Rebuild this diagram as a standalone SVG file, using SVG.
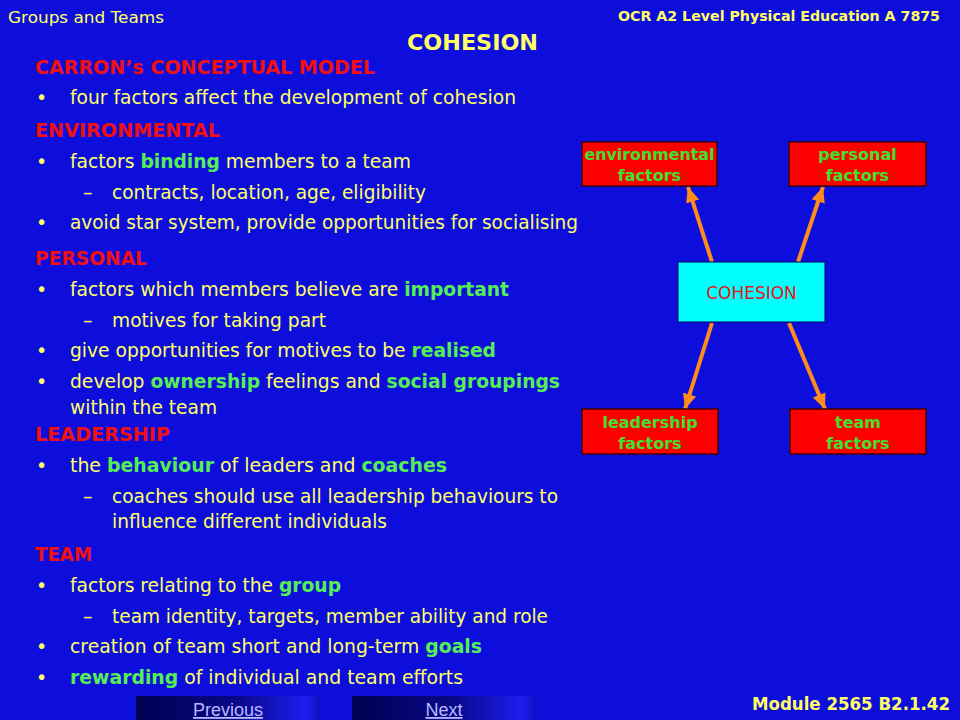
<svg xmlns="http://www.w3.org/2000/svg" width="960" height="720" viewBox="0 0 960 720">
<defs>
<style>
.t{font-family:"DejaVu Sans","Liberation Sans",sans-serif;font-size:19px;fill:#FFFF66}
.h{font-family:"DejaVu Sans","Liberation Sans",sans-serif;font-size:19px;font-weight:bold;fill:#F01010}
.g{fill:#55EE55;font-weight:bold}
.bt{font-family:"DejaVu Sans","Liberation Sans",sans-serif;font-size:16px;font-weight:bold;fill:#40E030;text-anchor:middle}
.hd{font-family:"DejaVu Sans","Liberation Sans",sans-serif;fill:#FFFF66}
.box{fill:#FF0000;stroke:#400000;stroke-width:1.5}
.arr{stroke:#FF8C1A;stroke-width:4;fill:none;marker-end:url(#ah)}
.btn{font-family:"Liberation Sans",Arial,sans-serif;font-size:18px;fill:#B8B8FF;text-anchor:middle;text-decoration:underline}
</style>
<marker id="ah" viewBox="0 0 10 10" refX="10" refY="5" markerWidth="3.8" markerHeight="3.8" orient="auto" markerUnits="strokeWidth">
<path d="M0,0.5 L10,5 L0,9.5 z" fill="#FF8C1A"/>
</marker>
<linearGradient id="bg" x1="0" y1="0" x2="1" y2="0">
<stop offset="0" stop-color="#000050"/>
<stop offset="0.55" stop-color="#080888"/>
<stop offset="0.92" stop-color="#1E1EF0"/>
<stop offset="1" stop-color="#1010C0"/>
</linearGradient>
</defs>
<rect x="0" y="0" width="960" height="720" fill="#0E0EDC"/>

<g id="header">
<text class="hd" x="8" y="23" font-size="15" textLength="156" lengthAdjust="spacingAndGlyphs">Groups and Teams</text>
<text class="hd" x="618" y="21" font-size="14" font-weight="bold" textLength="322" lengthAdjust="spacingAndGlyphs">OCR A2 Level Physical Education A 7875</text>
<text class="hd" x="407" y="50" font-size="22" font-weight="bold" textLength="131" lengthAdjust="spacingAndGlyphs">COHESION</text>
<text class="hd" x="752" y="710" font-size="17" font-weight="bold" textLength="198" lengthAdjust="spacingAndGlyphs">Module 2565 B2.1.42</text>
</g>

<g id="text">
<text class="h" x="35" y="74" textLength="340" lengthAdjust="spacingAndGlyphs">CARRON’s CONCEPTUAL MODEL</text>
<text class="t" x="36" y="104">•</text>
<text class="t" x="70" y="104" textLength="446" lengthAdjust="spacingAndGlyphs">four factors affect the development of cohesion</text>

<text class="h" x="35" y="137" textLength="185" lengthAdjust="spacingAndGlyphs">ENVIRONMENTAL</text>
<text class="t" x="36" y="168">•</text>
<text class="t" x="70" y="168" textLength="341" lengthAdjust="spacingAndGlyphs">factors <tspan class="g">binding</tspan>  members to a team</text>
<text class="t" x="83" y="199">–</text>
<text class="t" x="112" y="199" textLength="314" lengthAdjust="spacingAndGlyphs">contracts, location, age, eligibility</text>
<text class="t" x="36" y="229">•</text>
<text class="t" x="70" y="229" textLength="508" lengthAdjust="spacingAndGlyphs">avoid star system, provide opportunities for socialising</text>

<text class="h" x="35" y="265" textLength="112" lengthAdjust="spacingAndGlyphs">PERSONAL</text>
<text class="t" x="36" y="296">•</text>
<text class="t" x="70" y="296" textLength="439" lengthAdjust="spacingAndGlyphs">factors which members believe are <tspan class="g">important</tspan></text>
<text class="t" x="83" y="327">–</text>
<text class="t" x="112" y="327" textLength="214" lengthAdjust="spacingAndGlyphs">motives for taking part</text>
<text class="t" x="36" y="357">•</text>
<text class="t" x="70" y="357" textLength="426" lengthAdjust="spacingAndGlyphs">give opportunities for motives to be <tspan class="g">realised</tspan></text>
<text class="t" x="36" y="388">•</text>
<text class="t" x="70" y="388" textLength="490" lengthAdjust="spacingAndGlyphs">develop <tspan class="g">ownership</tspan> feelings and <tspan class="g">social groupings</tspan></text>
<text class="t" x="70" y="414" textLength="147" lengthAdjust="spacingAndGlyphs">within the team</text>

<text class="h" x="35" y="441" textLength="135" lengthAdjust="spacingAndGlyphs">LEADERSHIP</text>
<text class="t" x="36" y="472">•</text>
<text class="t" x="70" y="472" textLength="377" lengthAdjust="spacingAndGlyphs">the <tspan class="g">behaviour</tspan> of leaders and <tspan class="g">coaches</tspan></text>
<text class="t" x="83" y="503">–</text>
<text class="t" x="112" y="503" textLength="446" lengthAdjust="spacingAndGlyphs">coaches should use all leadership behaviours to</text>
<text class="t" x="112" y="528" textLength="275" lengthAdjust="spacingAndGlyphs">influence different individuals</text>

<text class="h" x="35" y="561" textLength="57" lengthAdjust="spacingAndGlyphs">TEAM</text>
<text class="t" x="36" y="592">•</text>
<text class="t" x="70" y="592" textLength="271" lengthAdjust="spacingAndGlyphs">factors relating to the <tspan class="g">group</tspan></text>
<text class="t" x="83" y="623">–</text>
<text class="t" x="112" y="623" textLength="436" lengthAdjust="spacingAndGlyphs">team identity, targets, member ability and role</text>
<text class="t" x="36" y="653">•</text>
<text class="t" x="70" y="653" textLength="412" lengthAdjust="spacingAndGlyphs">creation of team short and long-term <tspan class="g">goals</tspan></text>
<text class="t" x="36" y="684">•</text>
<text class="t" x="70" y="684" textLength="393" lengthAdjust="spacingAndGlyphs"><tspan class="g">rewarding</tspan> of individual and team efforts</text>
</g>

<g id="connectors">
<line class="arr" x1="712" y1="262" x2="688" y2="187"/>
<line class="arr" x1="798" y1="262" x2="823" y2="187"/>
<line class="arr" x1="712" y1="323" x2="685" y2="409"/>
<line class="arr" x1="789" y1="323" x2="825" y2="409"/>
</g>

<g id="node-environmental">
<rect class="box" x="582" y="142" width="135" height="44"/>
<text class="bt" x="649.5" y="160" textLength="130" lengthAdjust="spacingAndGlyphs">environmental</text>
<text class="bt" x="649.5" y="181">factors</text>
</g>
<g id="node-personal">
<rect class="box" x="789" y="142" width="137" height="44"/>
<text class="bt" x="857.5" y="160">personal</text>
<text class="bt" x="857.5" y="181">factors</text>
</g>
<g id="node-cohesion">
<rect x="678" y="262" width="147" height="60" fill="#00FFFF" stroke="#000060" stroke-width="1"/>
<text x="751.5" y="299" font-family="DejaVu Sans, Liberation Sans, sans-serif" font-size="17" fill="#E01818" text-anchor="middle">COHESION</text>
</g>
<g id="node-leadership">
<rect class="box" x="582" y="409" width="136" height="45"/>
<text class="bt" x="650" y="428">leadership</text>
<text class="bt" x="650" y="449">factors</text>
</g>
<g id="node-team">
<rect class="box" x="790" y="409" width="136" height="45"/>
<text class="bt" x="858" y="428">team</text>
<text class="bt" x="858" y="449">factors</text>
</g>

<g id="nav">
<rect x="136" y="696" width="184" height="24" fill="url(#bg)"/>
<text class="btn" x="228" y="716">Previous</text>
<rect x="352" y="696" width="184" height="24" fill="url(#bg)"/>
<text class="btn" x="444" y="716">Next</text>
</g>
</svg>
